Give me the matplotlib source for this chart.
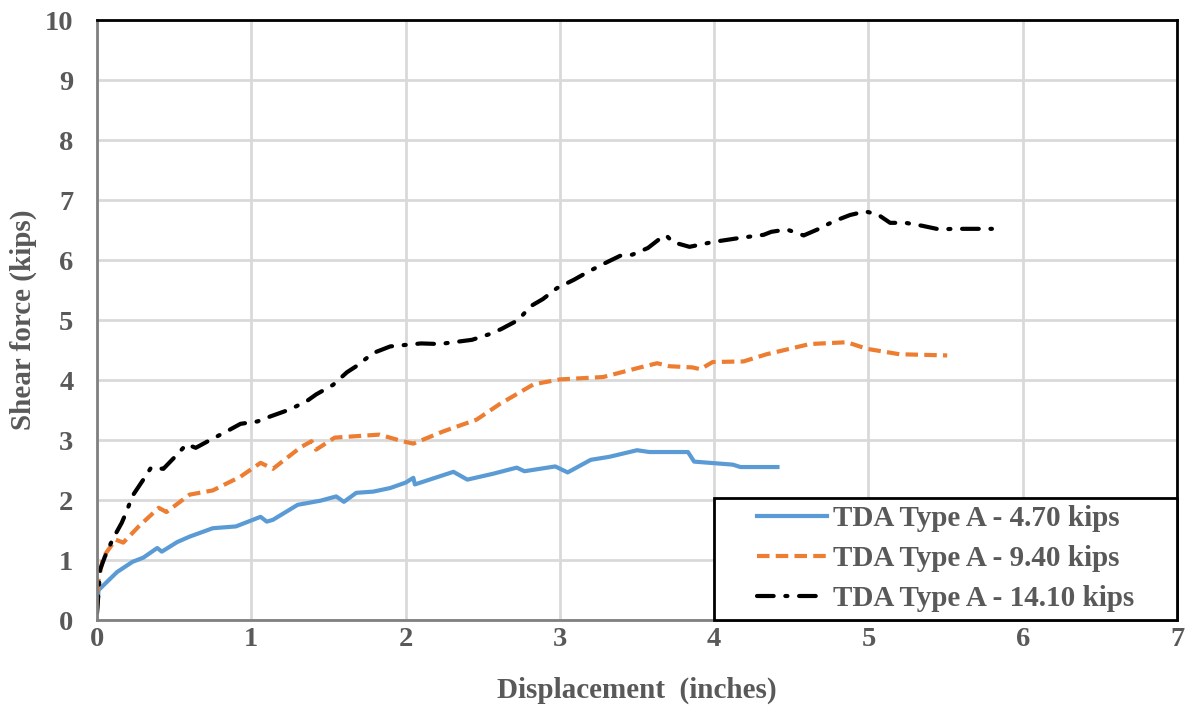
import matplotlib.pyplot as plt
from matplotlib.patches import Rectangle

# TDA Type A - 4.70 kips
x_470 = [0.0, 0.01, 0.05, 0.13, 0.23, 0.3, 0.39, 0.42, 0.52, 0.6, 0.75, 0.9, 1.06, 1.1, 1.14,
         1.3, 1.45, 1.55, 1.6, 1.68, 1.79, 1.9, 2.0, 2.05, 2.06, 2.31, 2.4, 2.57, 2.72, 2.77,
         2.97, 3.05, 3.2, 3.32, 3.5, 3.58, 3.83, 3.87, 4.12, 4.17, 4.41]
y_470 = [0.17, 0.5, 0.6, 0.8, 0.97, 1.04, 1.2, 1.14, 1.3, 1.39, 1.53, 1.56, 1.72, 1.64, 1.67,
         1.92, 1.99, 2.06, 1.97, 2.12, 2.14, 2.2, 2.29, 2.37, 2.26, 2.47, 2.34, 2.44, 2.54, 2.48,
         2.56, 2.46, 2.67, 2.72, 2.83, 2.8, 2.8, 2.64, 2.59, 2.55, 2.55]

# TDA Type A - 9.40 kips
x_940 = [0.0, 0.01, 0.04, 0.12, 0.17, 0.27, 0.4, 0.45, 0.6, 0.75, 0.93, 1.06, 1.14, 1.32, 1.39,
         1.42, 1.54, 1.83, 1.98, 2.05, 2.24, 2.46, 2.61, 2.83, 3.0, 3.28, 3.52, 3.63, 3.71, 3.86,
         3.91, 3.99, 4.19, 4.34, 4.62, 4.86, 4.99, 5.2, 5.51]
y_940 = [0.17, 0.67, 1.05, 1.34, 1.29, 1.56, 1.87, 1.8, 2.09, 2.16, 2.39, 2.62, 2.52, 2.88, 2.98,
         2.84, 3.04, 3.09, 2.98, 2.94, 3.14, 3.34, 3.6, 3.93, 4.01, 4.05, 4.21, 4.28, 4.23, 4.21,
         4.18, 4.3, 4.31, 4.43, 4.6, 4.63, 4.52, 4.43, 4.41]

# TDA Type A - 14.10 kips
x_1410 = [0.0, 0.02, 0.05, 0.1, 0.16, 0.19, 0.23, 0.3, 0.35, 0.43, 0.52, 0.58, 0.64, 0.74, 0.83,
          0.93, 1.04, 1.12, 1.25, 1.36, 1.42, 1.53, 1.62, 1.68, 1.79, 1.9, 1.98, 2.1, 2.22, 2.31,
          2.43, 2.55, 2.62, 2.73, 2.81, 2.89, 2.98, 3.09, 3.18, 3.27, 3.39, 3.47, 3.57, 3.67, 3.69,
          3.73, 3.84, 3.99, 4.17, 4.32, 4.37, 4.47, 4.58, 4.67, 4.77, 4.88, 4.98, 5.06, 5.14, 5.24,
          5.35, 5.46, 5.55, 5.67, 5.8]
y_1410 = [0.12, 0.84, 1.05, 1.34, 1.62, 1.8, 2.07, 2.34, 2.54, 2.52, 2.76, 2.93, 2.87, 3.01, 3.13,
          3.27, 3.31, 3.39, 3.51, 3.65, 3.76, 3.92, 4.13, 4.23, 4.45, 4.56, 4.58, 4.61, 4.6, 4.63,
          4.67, 4.77, 4.85, 5.0, 5.23, 5.35, 5.53, 5.67, 5.8, 5.92, 6.07, 6.09, 6.2, 6.4, 6.41,
          6.3, 6.22, 6.3, 6.37, 6.42, 6.47, 6.51, 6.41, 6.51, 6.64, 6.75, 6.81, 6.76, 6.62, 6.62,
          6.57, 6.51, 6.52, 6.52, 6.52]

labels = ['TDA Type A - 4.70 kips', 'TDA Type A - 9.40 kips', 'TDA Type A - 14.10 kips']

plt.rcParams['font.family'] = ['Liberation Serif', 'DejaVu Serif']
plt.rcParams['font.weight'] = 'bold'

fig = plt.figure(figsize=(11.95, 7.13), dpi=100)
ax = fig.add_axes([0.0812, 0.1304, 0.9038, 0.8415])

ax.plot(x_470, y_470, color='#5b9bd5', linewidth=3, label=labels[0])
ax.plot(x_940, y_940, color='#ed7d31', linewidth=3, dashes=(3.0, 1.5), label=labels[1])
ax.plot(x_1410, y_1410, color='black', linewidth=3, dashes=(4.0, 2.8, 0.5, 2.8),
        dash_capstyle='round', label=labels[2])

ax.set_xlim(0, 7)
ax.set_ylim(0, 10)
ax.set_xticks(range(0, 8))
ax.set_yticks(range(0, 11))
ax.grid(True, color='#d9d9d9', linewidth=2)
ax.set_axisbelow(True)
ax.tick_params(length=0, labelsize=20.5, labelcolor='#595959')
ax.tick_params(axis='y', pad=17)
ax.tick_params(axis='x', pad=5)

for side in ['left', 'bottom']:
    ax.spines[side].set_color('#808080')
    ax.spines[side].set_linewidth(2)
for side in ['top', 'right']:
    ax.spines[side].set_color('black')
    ax.spines[side].set_linewidth(2)

ax.set_xlabel('Displacement  (inches)', fontsize=21, color='#595959', fontweight='bold', labelpad=18)
ax.set_ylabel('Shear force (kips)', fontsize=21, color='#595959', fontweight='bold', labelpad=6)

# legend box drawn separately so padding can differ left/right vs top/bottom
box = Rectangle((0.5713, 0.0), 0.4287, 0.204, transform=ax.transAxes, facecolor='white',
                edgecolor='black', linewidth=2, zorder=4, clip_on=False)
ax.add_patch(box)

leg = ax.legend(loc='center', bbox_to_anchor=(0.7856, 0.102), frameon=False,
                fontsize=21, handlelength=2.4, handletextpad=0.2,
                borderpad=0, labelspacing=0.45)
leg.set_zorder(5)
for t in leg.get_texts():
    t.set_color('#595959')

plt.savefig('out.png', dpi=100)
